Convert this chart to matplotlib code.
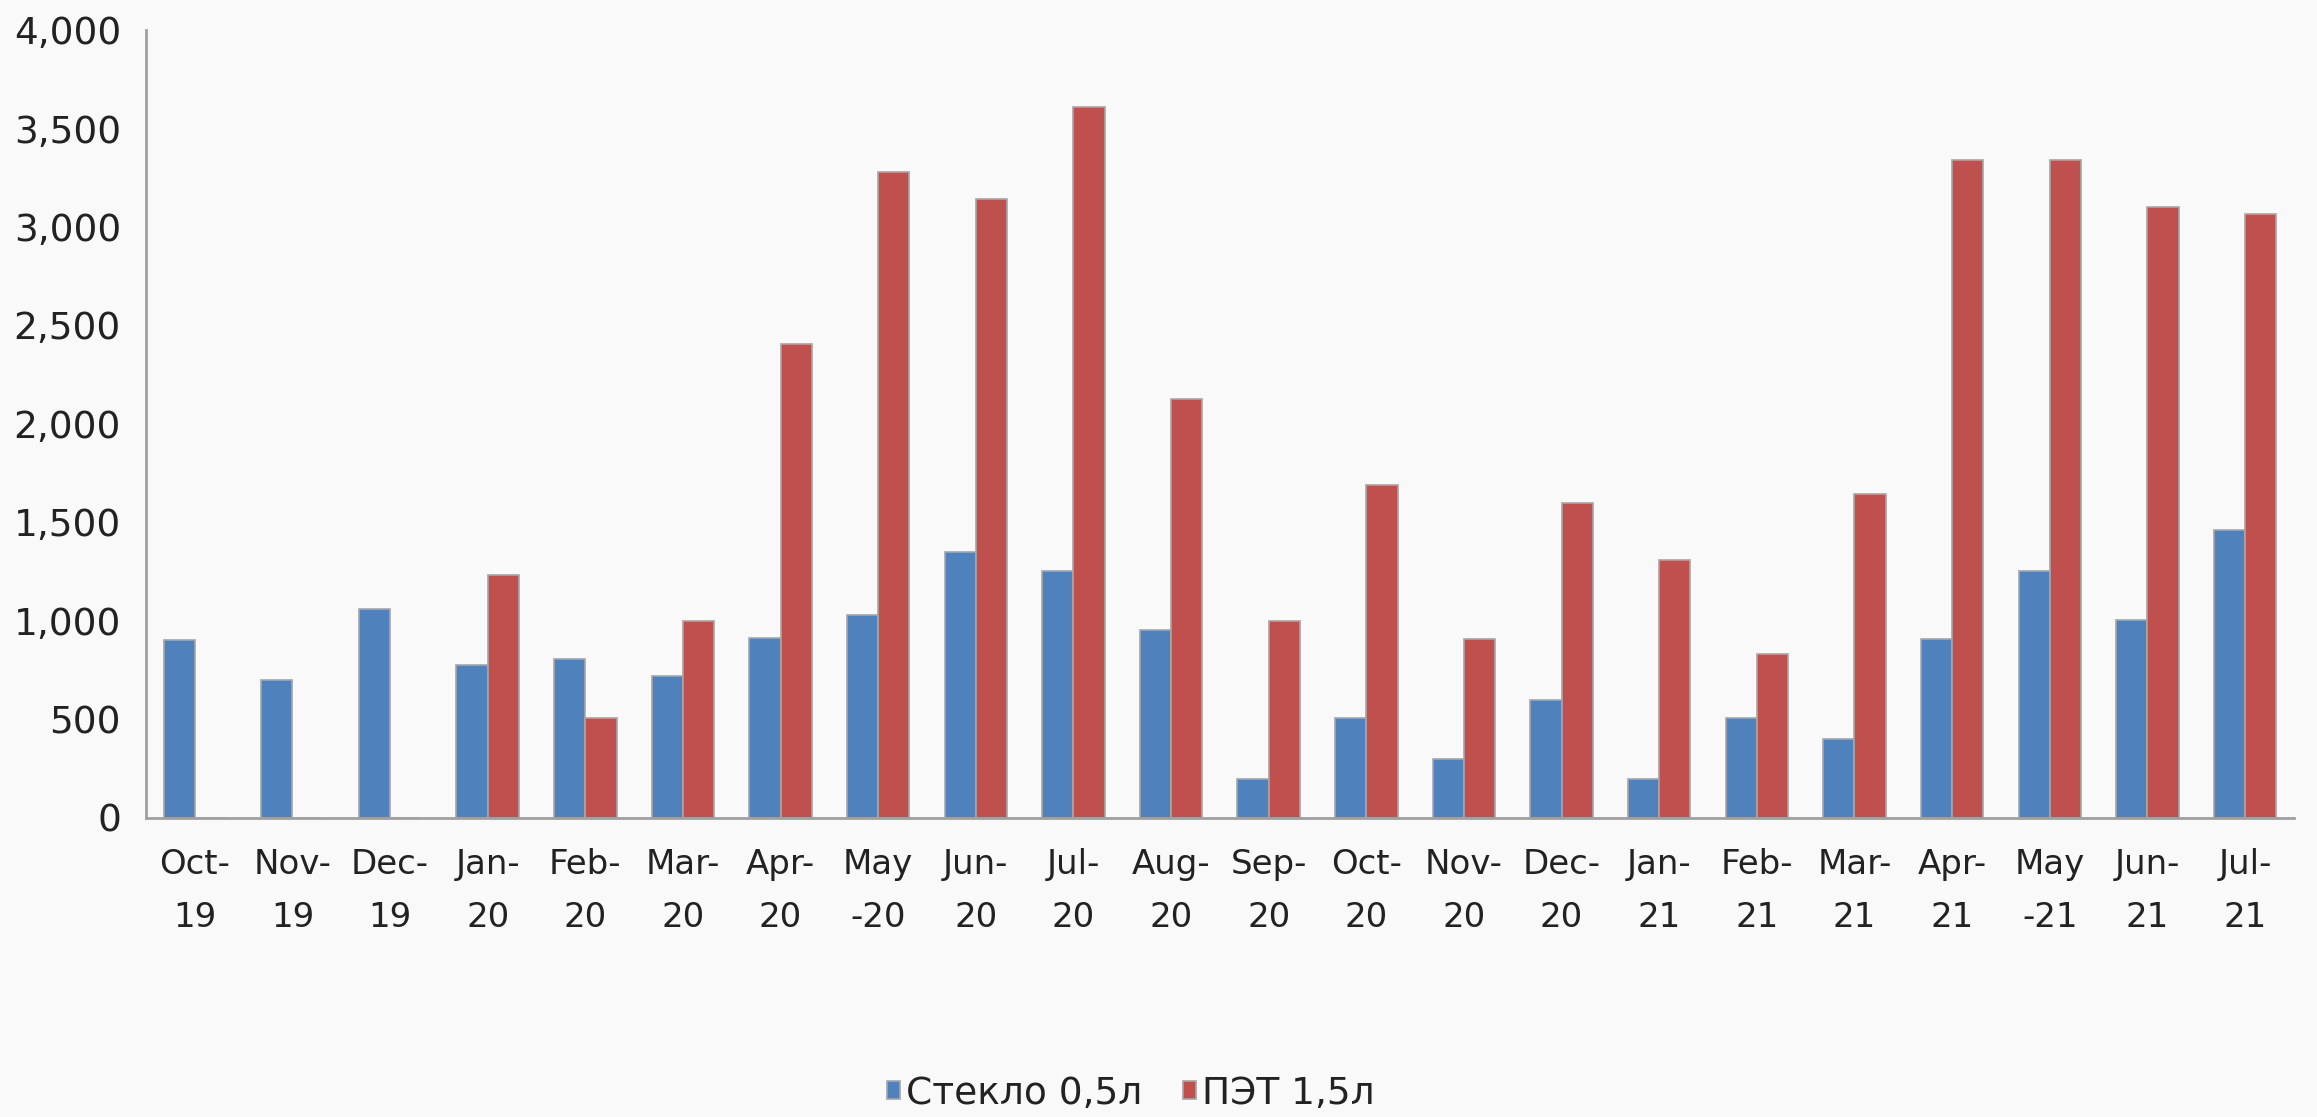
import numpy as np
import matplotlib
matplotlib.use("Agg")
import matplotlib.pyplot as plt
from matplotlib.ticker import FuncFormatter

months = ["Oct-\n19", "Nov-\n19", "Dec-\n19", "Jan-\n20", "Feb-\n20", "Mar-\n20",
          "Apr-\n20", "May\n-20", "Jun-\n20", "Jul-\n20", "Aug-\n20", "Sep-\n20",
          "Oct-\n20", "Nov-\n20", "Dec-\n20", "Jan-\n21", "Feb-\n21", "Mar-\n21",
          "Apr-\n21", "May\n-21", "Jun-\n21", "Jul-\n21"]

glass = [900, 700, 1060, 775, 805, 720, 915, 1030, 1350, 1255, 955, 195,
         505, 300, 600, 195, 505, 400, 905, 1255, 1005, 1460]
pet = [0, 0, 0, 1235, 505, 1000, 2405, 3280, 3140, 3610, 2125, 1000,
       1690, 905, 1600, 1310, 830, 1645, 3340, 3340, 3100, 3065]

bg = "#f9f9f9"
plt.rcParams["font.family"] = ["DejaVu Sans"]

fig = plt.figure(figsize=(23.17, 11.17), dpi=100, facecolor=bg)
ax = fig.add_axes([0.063, 0.268, 0.927, 0.705], facecolor=bg)

x = np.arange(len(months))
w = 0.32
ax.bar(x - w / 2, glass, w, color="#4f81bd", edgecolor="#a6a6a6", linewidth=1.2,
       label="Стекло 0,5л")
ax.bar(x + w / 2, pet, w, color="#c0504d", edgecolor="#a6a6a6", linewidth=1.2,
       label="ПЭТ 1,5л")

ax.set_xlim(-0.5, len(months) - 0.5)
ax.set_ylim(0, 4000)
ax.set_yticks(np.arange(0, 4001, 500))
ax.yaxis.set_major_formatter(FuncFormatter(lambda v, p: f"{int(v):,}"))
ax.set_xticks(x)
ax.set_xticklabels(months, linespacing=1.75)

for s in ["top", "right"]:
    ax.spines[s].set_visible(False)
for s in ["left", "bottom"]:
    ax.spines[s].set_color("#a0a0a0")
    ax.spines[s].set_linewidth(2)

ax.tick_params(axis="both", length=0, colors="#222222")
ax.tick_params(axis="x", pad=22, labelsize=24.5)
ax.tick_params(axis="y", pad=18, labelsize=27)

fig.legend(loc="center", bbox_to_anchor=(0.488, 0.021), ncol=2, frameon=False,
           fontsize=27, handlelength=0.35, handleheight=0.35, handletextpad=0.15,
           columnspacing=1.1, labelcolor="#222222")

plt.savefig("out.png", dpi=100, facecolor=bg)
